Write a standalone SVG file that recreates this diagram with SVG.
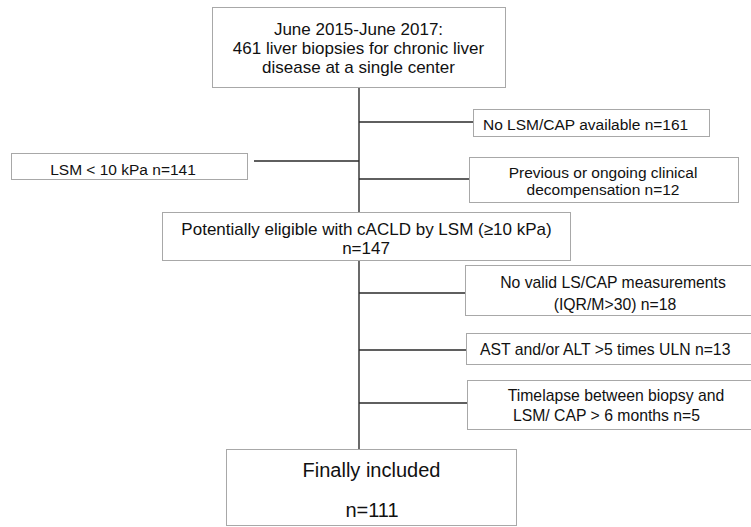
<svg xmlns="http://www.w3.org/2000/svg" width="751" height="527" viewBox="0 0 751 527">
<style>
  .box { fill: #ffffff; stroke: #a8a8a8; stroke-width: 1; }
  .t { font-family: "Liberation Sans", Arial, sans-serif; fill: #111111; }
  .m { text-anchor: middle; }
  .conn line { stroke: #2a2a2a; stroke-width: 1.4; }
</style>
<rect width="751" height="527" fill="#ffffff"/>
<g class="conn" id="connectors">
  <line x1="359" y1="87" x2="359" y2="212"/>
  <line x1="359" y1="260" x2="359" y2="449"/>
  <line x1="359" y1="122" x2="473" y2="122"/>
  <line x1="254" y1="161" x2="359" y2="161"/>
  <line x1="359" y1="179" x2="469" y2="179"/>
  <line x1="359" y1="293" x2="465" y2="293"/>
  <line x1="359" y1="350" x2="466" y2="350"/>
  <line x1="359" y1="403" x2="467" y2="403"/>
</g>
<g id="n-start">
  <rect class="box" x="212.5" y="7.5" width="293" height="80"/>
  <text class="t m" font-size="17" x="358.5" y="34.5">June 2015-June 2017:</text>
  <text class="t m" font-size="17" x="358.5" y="53.5">461 liver biopsies for chronic liver</text>
  <text class="t m" font-size="17" x="358.5" y="72.5">disease at a single center</text>
</g>
<g id="n-nolsm">
  <rect class="box" x="473.5" y="109.5" width="236" height="27"/>
  <text class="t" font-size="15.5" x="483" y="130">No LSM/CAP available n=161</text>
</g>
<g id="n-lsm">
  <rect class="box" x="11.5" y="153.5" width="236" height="26"/>
  <text class="t m" font-size="15.5" x="123" y="174.5">LSM &lt; 10 kPa n=141</text>
</g>
<g id="n-prev">
  <rect class="box" x="469.5" y="157.5" width="269" height="45"/>
  <text class="t m" font-size="15.5" x="603" y="177.5">Previous or ongoing clinical</text>
  <text class="t m" font-size="15.5" x="603" y="194.5">decompensation n=12</text>
</g>
<g id="n-elig">
  <rect class="box" x="162.5" y="212.5" width="408" height="48"/>
  <text class="t m" font-size="17" x="366.5" y="235">Potentially eligible with cACLD by LSM (≥10 kPa)</text>
  <text class="t m" font-size="17" x="366" y="254">n=147</text>
</g>
<g id="n-novalid">
  <rect class="box" x="465.5" y="265.5" width="300" height="50"/>
  <text class="t m" font-size="15.75" x="613" y="288">No valid LS/CAP measurements</text>
  <text class="t m" font-size="15.75" x="615" y="310">(IQR/M&gt;30) n=18</text>
</g>
<g id="n-ast">
  <rect class="box" x="466.5" y="333.5" width="300" height="31"/>
  <text class="t" font-size="15.75" x="480" y="355">AST and/or ALT &gt;5 times ULN n=13</text>
</g>
<g id="n-time">
  <rect class="box" x="467.5" y="380.5" width="300" height="49"/>
  <text class="t m" font-size="15.75" x="616" y="401">Timelapse between biopsy and</text>
  <text class="t m" font-size="15.75" x="606.5" y="420.5">LSM/ CAP &gt; 6 months n=5</text>
</g>
<g id="n-final">
  <rect class="box" x="226.5" y="449.5" width="290" height="76"/>
  <text class="t m" font-size="20" x="371.5" y="477">Finally included</text>
  <text class="t m" font-size="20" x="372" y="517">n=111</text>
</g>
</svg>
